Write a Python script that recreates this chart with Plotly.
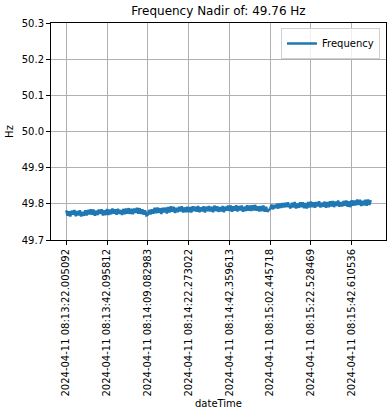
import plotly.graph_objects as go

# Tick labels (category labels shown every 30 samples)
tick_labels = [
    "2024-04-11 08:13:22.005092",
    "2024-04-11 08:13:42.095812",
    "2024-04-11 08:14:09.082983",
    "2024-04-11 08:14:22.273022",
    "2024-04-11 08:14:42.359613",
    "2024-04-11 08:15:02.445718",
    "2024-04-11 08:15:22.528469",
    "2024-04-11 08:15:42.610536",
]
tick_step = 30

# Frequency samples (Hz)
frequency = [
    49.782, 49.767, 49.779, 49.765, 49.781, 49.770, 49.783, 49.766, 49.780, 49.768, 49.782, 49.765, 49.778, 49.767, 49.782,
    49.768, 49.783, 49.771, 49.785, 49.770, 49.784, 49.767, 49.781, 49.769, 49.784, 49.772, 49.785, 49.768, 49.782, 49.769,
    49.786, 49.769, 49.784, 49.771, 49.787, 49.773, 49.785, 49.770, 49.786, 49.772, 49.783, 49.769, 49.786, 49.771, 49.787,
    49.773, 49.788, 49.772, 49.786, 49.771, 49.787, 49.775, 49.789, 49.773, 49.788, 49.772, 49.785, 49.770, 49.782, 49.768,
    49.770, 49.783, 49.771, 49.785, 49.773, 49.789, 49.774, 49.790, 49.775, 49.788, 49.772, 49.789, 49.776, 49.790, 49.773,
    49.791, 49.776, 49.793, 49.778, 49.792, 49.775, 49.789, 49.777, 49.792, 49.779, 49.793, 49.776, 49.790, 49.777, 49.792,
    49.777, 49.791, 49.776, 49.793, 49.780, 49.792, 49.778, 49.794, 49.777, 49.790, 49.779, 49.793, 49.776, 49.792, 49.780,
    49.794, 49.779, 49.792, 49.777, 49.795, 49.780, 49.793, 49.778, 49.791, 49.779, 49.794, 49.777, 49.792, 49.781, 49.795,
    49.780, 49.795, 49.778, 49.793, 49.781, 49.796, 49.779, 49.794, 49.782, 49.795, 49.778, 49.792, 49.780, 49.796, 49.781,
    49.795, 49.780, 49.796, 49.782, 49.797, 49.781, 49.793, 49.779, 49.794, 49.780, 49.795, 49.778, 49.792, 49.778, 49.783,
    49.786, 49.798, 49.785, 49.797, 49.788, 49.800, 49.787, 49.801, 49.789, 49.802, 49.790, 49.803, 49.791, 49.804, 49.793,
    49.788, 49.803, 49.790, 49.805, 49.787, 49.801, 49.789, 49.804, 49.791, 49.804, 49.788, 49.802, 49.787, 49.805, 49.790,
    49.806, 49.791, 49.804, 49.789, 49.805, 49.793, 49.807, 49.790, 49.803, 49.792, 49.806, 49.789, 49.805, 49.791, 49.807,
    49.793, 49.808, 49.791, 49.806, 49.794, 49.809, 49.792, 49.805, 49.793, 49.808, 49.795, 49.809, 49.792, 49.807, 49.791,
    49.810, 49.795, 49.809, 49.796, 49.812, 49.797, 49.811, 49.794, 49.808, 49.796, 49.811, 49.795, 49.812, 49.797, 49.810,
]

title_text = "Frequency Nadir of: 49.76 Hz"

idx = list(range(len(frequency)))
n = len(frequency) - 1
tickvals = [i * tick_step for i in range(len(tick_labels))]

font = "DejaVu Sans"

fig = go.Figure()
fig.add_trace(go.Scatter(
    x=idx, y=frequency, mode="lines", name="Frequency",
    line=dict(color="#1f77b4", width=2.5, simplify=False),
))

fig.update_layout(
    width=392, height=416,
    margin=dict(l=51, r=6, t=23, b=176, autoexpand=False),
    paper_bgcolor="white", plot_bgcolor="white",
    font=dict(family=font, size=10, color="black"),
    title=dict(text=title_text, x=0.5, xanchor="center", xref="paper",
               y=1 - 11 / 416, yref="container", yanchor="middle",
               font=dict(size=12, family=font, color="black")),
    showlegend=True,
    legend=dict(x=0.982, y=0.977, xanchor="right", yanchor="top",
                bgcolor="rgba(255,255,255,0.8)", bordercolor="#d0d0d0", borderwidth=1,
                font=dict(size=10, family=font), itemwidth=30,
                tracegroupgap=0),
    xaxis=dict(
        range=[-0.05 * n, 1.05 * n], automargin=False,
        tickmode="array", tickvals=tickvals, ticktext=tick_labels,
        tickangle=-90, ticks="outside", ticklen=4, tickcolor="black",
        showline=True, linecolor="black", linewidth=1, mirror=True,
        showgrid=True, gridcolor="#b0b0b0", gridwidth=0.8,
        zeroline=False,
        title=dict(text="dateTime", font=dict(size=10, family=font), standoff=4),
    ),
    yaxis=dict(
        range=[49.7, 50.3], tickmode="linear", tick0=49.7, dtick=0.1, tickformat=".1f",
        automargin=False,
        ticks="outside", ticklen=4, tickcolor="black",
        showline=True, linecolor="black", linewidth=1, mirror=True,
        showgrid=True, gridcolor="#b0b0b0", gridwidth=0.8,
        zeroline=False,
        title=dict(text="Hz", font=dict(size=10, family=font), standoff=6),
    ),
)

fig.write_html("out.html", config={"displayModeBar": False},
               post_script="document.body.style.margin='0';")
